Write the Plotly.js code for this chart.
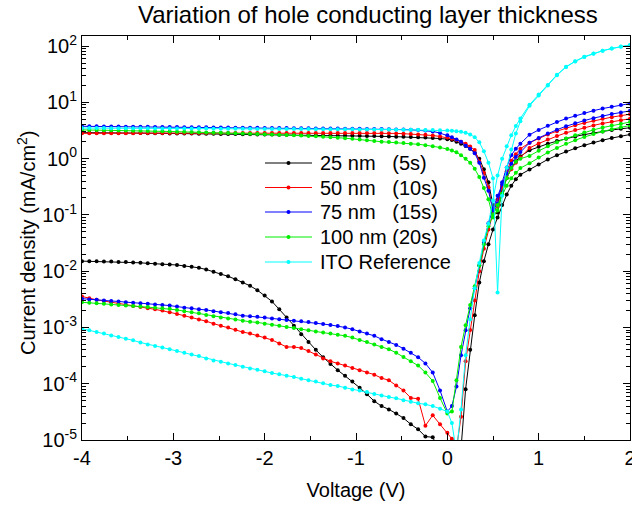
<!DOCTYPE html>
<html><head><meta charset="utf-8">
<script src="https://cdn.plot.ly/plotly-3.0.1.min.js"></script>
<style>html,body{margin:0;padding:0;background:#fff}#chart{width:632px;height:510px}</style>
</head><body><div id="chart"></div>
<script>
// Voltage sweep (V)
const voltage = [-4,-3.92,-3.84,-3.76,-3.68,-3.6,-3.52,-3.44,-3.36,-3.28,-3.2,-3.12,-3.04,-2.96,-2.88,-2.8,-2.72,-2.64,-2.56,-2.48,-2.4,-2.32,-2.24,-2.16,-2.08,-2,-1.92,-1.84,-1.76,-1.68,-1.6,-1.52,-1.44,-1.36,-1.28,-1.2,-1.12,-1.04,-0.96,-0.88,-0.8,-0.72,-0.64,-0.56,-0.48,-0.4,-0.32,-0.24,-0.16,-0.08,0,
0.05,0.1,0.15,0.2,0.25,0.3,0.35,0.4,0.45,0.5,0.55,0.6,0.65,0.7,0.75,0.8,
0.9,1,1.1,1.2,1.3,1.4,1.5,1.6,1.7,1.8,1.9,2];

// Current density |J| (mA/cm^2), illuminated ("light") and dark sweeps
const j25Light = [2.9,2.9,2.89,2.88,2.88,2.87,2.86,2.85,2.85,2.84,2.83,2.82,2.81,2.8,2.8,2.79,2.78,2.77,2.76,2.75,2.74,2.73,2.72,2.71,2.7,2.69,2.68,2.67,2.66,2.65,2.64,2.63,2.62,2.61,2.6,2.59,2.58,2.57,2.56,2.54,2.52,2.5,2.48,2.46,2.44,2.42,2.4,2.37,2.33,2.28,2.22,
2.15,2.0,1.85,1.68,1.5,1.28,1.0,0.65,0.38,0.15,0.11,0.26,0.45,0.68,0.9,1.1,
1.41,1.62,1.84,2.05,2.27,2.48,2.68,2.87,3.05,3.23,3.39,3.55];
const j25Dark = [1.51e-2,1.5e-2,1.5e-2,1.48e-2,1.48e-2,1.46e-2,1.45e-2,1.43e-2,1.41e-2,1.38e-2,1.36e-2,1.33e-2,1.32e-2,1.29e-2,1.24e-2,1.2e-2,1.15e-2,1.07e-2,9.8e-3,8.9e-3,8.1e-3,7.2e-3,6.3e-3,5.5e-3,4.6e-3,3.7e-3,2.9e-3,2.1e-3,1.5e-3,1.07e-3,7.6e-4,5.5e-4,4.0e-4,2.95e-4,2.24e-4,1.74e-4,1.38e-4,1.1e-4,8.5e-5,6.5e-5,4.9e-5,4.0e-5,3.5e-5,2.95e-5,2.45e-5,1.9e-5,1.55e-5,1.15e-5,1.12e-5,6e-6,4e-6,
3e-6,4e-6,7e-6,8e-5,4e-4,1.65e-3,6.3e-3,1.5e-2,3e-2,5.5e-2,9e-2,0.15,0.23,0.33,0.43,0.52,
0.64,0.79,0.97,1.15,1.34,1.53,1.73,1.94,2.13,2.32,2.5,2.69];

const j50Light = [2.82,2.83,2.83,2.83,2.84,2.84,2.84,2.84,2.85,2.85,2.85,2.85,2.85,2.85,2.86,2.86,2.86,2.86,2.86,2.86,2.86,2.86,2.87,2.87,2.87,2.87,2.87,2.87,2.87,2.87,2.87,2.87,2.87,2.87,2.87,2.87,2.87,2.87,2.87,2.87,2.86,2.85,2.83,2.81,2.78,2.74,2.7,2.65,2.58,2.48,2.37,
2.25,2.15,2.0,1.85,1.65,1.42,0.9,0.56,0.31,0.12,0.14,0.33,0.6,0.92,1.2,1.5,
1.92,2.29,2.69,3.08,3.51,3.91,4.32,4.72,5.11,5.47,5.81,6.17];
const j50Dark = [3.55e-3,3.3e-3,3.1e-3,2.95e-3,2.8e-3,2.63e-3,2.5e-3,2.4e-3,2.3e-3,2.2e-3,2.1e-3,2.0e-3,1.86e-3,1.74e-3,1.62e-3,1.51e-3,1.38e-3,1.29e-3,1.17e-3,1.07e-3,1.0e-3,9.1e-4,8.3e-4,7.8e-4,7.2e-4,6.6e-4,6.0e-4,5.2e-4,4.5e-4,4.5e-4,4.3e-4,3.8e-4,3.3e-4,2.8e-4,2.5e-4,2.3e-4,2.1e-4,1.9e-4,1.74e-4,1.58e-4,1.45e-4,1.26e-4,1.15e-4,9.3e-5,7.6e-5,5.6e-5,5.4e-5,1.8e-5,2.75e-5,1.9e-5,1.35e-5,
1.05e-5,7e-6,2.6e-5,2.5e-4,9e-4,3e-3,1e-2,2.5e-2,5.5e-2,0.11,0.19,0.31,0.46,0.65,0.85,1.05,
1.55,1.86,2.19,2.52,2.88,3.22,3.56,3.9,4.23,4.54,4.83,5.13];

const j75Light = [3.76,3.75,3.75,3.74,3.73,3.72,3.71,3.7,3.69,3.68,3.67,3.66,3.65,3.64,3.63,3.62,3.61,3.6,3.59,3.58,3.57,3.56,3.55,3.54,3.53,3.52,3.51,3.5,3.49,3.48,3.47,3.46,3.45,3.44,3.43,3.42,3.41,3.4,3.39,3.38,3.37,3.35,3.33,3.31,3.29,3.26,3.22,3.16,3.05,2.85,2.6,
2.4,2.2,2.0,1.7,1.5,1.25,0.85,0.46,0.27,0.12,0.16,0.38,0.7,1.15,1.5,1.85,
2.66,3.24,3.85,4.47,5.15,5.8,6.46,7.13,7.77,8.4,8.95,9.55];
const j75Dark = [3.25e-3,3.15e-3,3.1e-3,3.0e-3,2.95e-3,2.9e-3,2.8e-3,2.75e-3,2.7e-3,2.65e-3,2.55e-3,2.5e-3,2.45e-3,2.35e-3,2.25e-3,2.2e-3,2.1e-3,2.05e-3,1.95e-3,1.86e-3,1.8e-3,1.72e-3,1.62e-3,1.58e-3,1.55e-3,1.5e-3,1.45e-3,1.4e-3,1.36e-3,1.32e-3,1.29e-3,1.25e-3,1.2e-3,1.15e-3,1.11e-3,1.06e-3,1.0e-3,9.3e-4,8.5e-4,7.8e-4,7.1e-4,6.2e-4,5.5e-4,4.9e-4,4.2e-4,3.55e-4,2.95e-4,2.3e-4,1.58e-4,7.6e-5,3.2e-5,
4.0e-5,8.9e-5,3.2e-4,8.9e-4,2.2e-3,5e-3,1.26e-2,3.2e-2,7.1e-2,0.13,0.22,0.35,0.54,0.81,1.07,1.32,
1.92,2.34,2.8,3.27,3.77,4.26,4.75,5.25,5.74,6.2,6.62,7.08];

const j100Light = [3.25,3.24,3.22,3.21,3.19,3.18,3.16,3.14,3.12,3.1,3.08,3.06,3.04,3.02,3.0,2.98,2.95,2.93,2.9,2.88,2.85,2.83,2.8,2.78,2.75,2.72,2.69,2.66,2.63,2.6,2.57,2.53,2.49,2.45,2.4,2.36,2.31,2.26,2.2,2.13,2.06,2.0,1.97,1.93,1.89,1.85,1.8,1.74,1.67,1.58,1.48,
1.4,1.3,1.15,1.0,0.85,0.66,0.47,0.3,0.19,0.09,0.12,0.24,0.45,0.68,0.88,1.0,
1.12,1.38,1.67,1.96,2.29,2.6,2.92,3.25,3.57,3.88,4.16,4.47];
const j100Dark = [2.8e-3,2.75e-3,2.7e-3,2.65e-3,2.55e-3,2.5e-3,2.45e-3,2.4e-3,2.35e-3,2.3e-3,2.25e-3,2.2e-3,2.15e-3,2.05e-3,1.95e-3,1.86e-3,1.78e-3,1.66e-3,1.58e-3,1.51e-3,1.45e-3,1.38e-3,1.32e-3,1.26e-3,1.23e-3,1.17e-3,1.12e-3,1.07e-3,1.02e-3,9.8e-4,9.3e-4,8.9e-4,8.5e-4,8.1e-4,7.8e-4,7.4e-4,7.1e-4,6.6e-4,6.0e-4,5.5e-4,5.0e-4,4.5e-4,4.1e-4,3.55e-4,3.0e-4,2.5e-4,2.1e-4,1.58e-4,1.12e-4,5.6e-5,2.95e-5,
3.2e-5,1.15e-4,4.5e-4,1.1e-3,2.5e-3,5.4e-3,1.26e-2,3e-2,6.3e-2,0.1,0.15,0.23,0.33,0.45,0.56,0.68,
0.83,1.05,1.29,1.55,1.84,2.13,2.43,2.73,3.03,3.33,3.6,3.89];

const jItoLight = [3.5,3.5,3.49,3.49,3.48,3.48,3.47,3.47,3.46,3.46,3.45,3.45,3.44,3.44,3.43,3.43,3.42,3.42,3.41,3.41,3.4,3.4,3.39,3.39,3.38,3.38,3.37,3.37,3.36,3.36,3.35,3.35,3.34,3.34,3.33,3.33,3.32,3.32,3.31,3.31,3.3,3.3,3.29,3.28,3.27,3.26,3.25,3.24,3.22,3.2,3.17,
3.13,3.08,3.0,2.9,2.7,2.4,1.95,1.35,0.85,0.45,0.0042,0.22,0.69,1.45,2.8,4.6,
8.7,13.2,20,30.5,42.5,53.5,64,73.5,82.5,90.5,97.5,104];
const jItoDark = [9.5e-4,8.9e-4,8.3e-4,7.8e-4,7.2e-4,6.8e-4,6.3e-4,5.9e-4,5.4e-4,5.0e-4,4.7e-4,4.4e-4,4.1e-4,3.8e-4,3.55e-4,3.3e-4,3.1e-4,2.8e-4,2.6e-4,2.45e-4,2.3e-4,2.15e-4,2.0e-4,1.86e-4,1.78e-4,1.66e-4,1.55e-4,1.48e-4,1.38e-4,1.32e-4,1.23e-4,1.15e-4,1.1e-4,1.02e-4,9.5e-5,9.1e-5,8.5e-5,7.9e-5,7.6e-5,7.1e-5,6.6e-5,6.2e-5,5.8e-5,5.5e-5,5.1e-5,4.8e-5,4.5e-5,4.3e-5,4.0e-5,3.6e-5,3.2e-5,
2.0e-5,6e-6,3.5e-5,3.2e-4,1.4e-3,5e-3,1.4e-2,3.5e-2,7e-2,0.18,0.5,1.0,1.66,2.6,3.8,5.2,
9.1,13.8,20.4,31,43,54,65,74,83,91,98,105];

const seriesNames = ['25 nm\u00a0\u00a0\u00a0(5s)', '50 nm\u00a0\u00a0\u00a0(10s)', '75 nm\u00a0\u00a0\u00a0(15s)', '100 nm (20s)', 'ITO Reference'];
const seriesColors = ['#000000', '#ff0000', '#0000ff', '#00ee00', '#00ffff'];
const lightData = [j25Light, j50Light, j75Light, j100Light, jItoLight];
const darkData = [j25Dark, j50Dark, j75Dark, j100Dark, jItoDark];

const xTickVals = [-4, -3, -2, -1, 0, 1, 2];
const xTickText = ['-4', '-3', '-2', '-1', '0', '1', '2'];
const yTickVals = [1e-5, 1e-4, 1e-3, 1e-2, 1e-1, 1, 10, 100];
const yTickText = ['10<sup>-5</sup>', '10<sup>-4</sup>', '10<sup>-3</sup>', '10<sup>-2</sup>', '10<sup>-1</sup>', '10<sup>0</sup>', '10<sup>1</sup>', '10<sup>2</sup>'];

// minor tick positions on the log axis (2..9 in each decade)
const yMinor = [];
for (let e = -5; e <= 2; e++) for (let m = 2; m <= 9; m++) yMinor.push(m * Math.pow(10, e));

const traces = [];
for (let i = 0; i < seriesNames.length; i++) {
  const common = {
    type: 'scatter', mode: 'lines+markers', x: voltage, showlegend: false,
    line: {color: seriesColors[i], width: 1},
    marker: {color: seriesColors[i], size: 4, symbol: 'circle'}
  };
  traces.push(Object.assign({}, common, {y: darkData[i], name: seriesNames[i] + ' dark'}));
  traces.push(Object.assign({}, common, {y: lightData[i], name: seriesNames[i]}));
}

// Legend drawn in pixel positions of the reference (paper coordinates)
const plotL = 82, plotW = 548, plotB = 440, plotH = 404;
const px2x = p => (p - plotL) / plotW;
const px2y = p => (plotB - p) / plotH;
const legendRowsPx = [163, 187.5, 212, 237, 262];
const annotations = [];
const shapes = [];
for (let i = 0; i < seriesNames.length; i++) {
  const yy = px2y(legendRowsPx[i]);
  annotations.push({xref: 'paper', yref: 'paper', x: px2x(318), y: yy, xanchor: 'left', yanchor: 'middle',
    text: seriesNames[i], showarrow: false, font: {size: 20, color: '#000'}});
  shapes.push({type: 'line', xref: 'paper', yref: 'paper', x0: px2x(265), x1: px2x(312), y0: yy, y1: yy,
    line: {color: seriesColors[i], width: 1}});
  shapes.push({type: 'circle', xref: 'paper', yref: 'paper', xsizemode: 'pixel', ysizemode: 'pixel',
    xanchor: px2x(288.5), yanchor: yy, x0: -2, x1: 2, y0: -2, y1: 2,
    fillcolor: seriesColors[i], line: {width: 0}});
}
// y axis title placed as in the reference
annotations.push({xref: 'paper', yref: 'paper', x: px2x(26), y: px2y(243), xanchor: 'center', yanchor: 'middle',
  textangle: -90, text: 'Current density (mA/cm<sup>2</sup>)', showarrow: false, font: {size: 20, color: '#000'}});

const axisCommon = {
  showline: true, linecolor: '#000', linewidth: 1, mirror: 'allticks',
  ticks: 'inside', tickcolor: '#000', tickwidth: 1, ticklen: 7,
  showgrid: false, zeroline: false, tickfont: {size: 20, color: '#000'},
  ticklabeloverflow: 'allow'
};

const layout = {
  width: 632, height: 510,
  margin: {l: 82, r: 2, t: 36, b: 70},
  paper_bgcolor: '#ffffff', plot_bgcolor: '#ffffff',
  font: {family: '"Liberation Sans", Arial, sans-serif', size: 20, color: '#000'},
  title: {text: 'Variation of hole conducting layer thickness', font: {size: 24, color: '#000'},
          xref: 'container', x: 0.582, xanchor: 'center', yref: 'container', y: 0.972, yanchor: 'middle'},
  xaxis: Object.assign({}, axisCommon, {
    range: [-4, 2], tickmode: 'array', tickvals: xTickVals, ticktext: xTickText,
    minor: {tickmode: 'linear', tick0: -4, dtick: 0.5, ticks: 'inside', ticklen: 4, tickcolor: '#000', showgrid: false},
    title: {text: 'Voltage (V)', font: {size: 20}, standoff: 14}
  }),
  yaxis: Object.assign({}, axisCommon, {
    type: 'log', range: [-5, 2.18], tickmode: 'array', tickvals: yTickVals, ticktext: yTickText,
    minor: {tickmode: 'array', tickvals: yMinor, ticks: 'inside', ticklen: 4, tickcolor: '#000', showgrid: false}
  }),
  showlegend: false,
  annotations: annotations,
  shapes: shapes
};

Plotly.newPlot('chart', traces, layout, {staticPlot: true, displayModeBar: false});
</script>
</body></html>
